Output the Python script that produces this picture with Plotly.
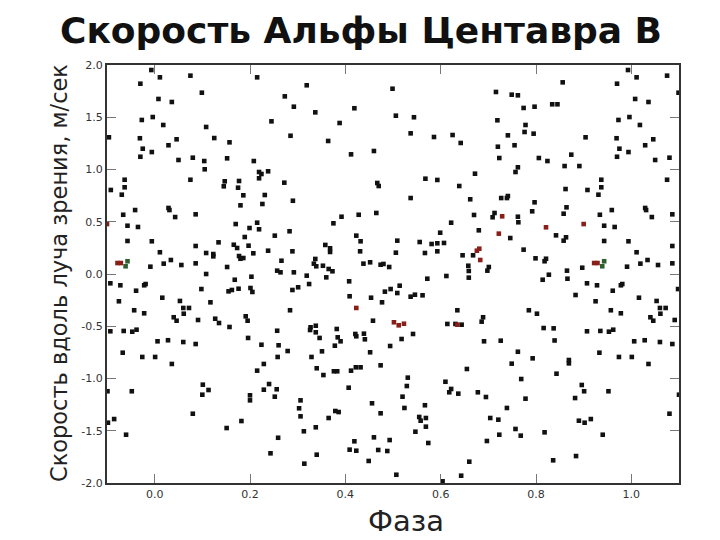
import plotly.graph_objects as go

# Phase (0..1) and radial velocity (m/s)
phase = [
0.011,0.075,0.099,0.008,0.036,0.018,0.108,0.046,0.125,0.157,0.029,0.080,0.050,0.104,0.152,0.208,0.105,0.075,0.147,0.177,0.145,0.175,0.186,
0.215,0.319,0.499,0.273,0.292,0.337,0.419,0.506,0.245,0.388,0.285,0.364,0.460,0.412,0.219,0.224,0.238,0.219,0.272,0.467,0.470,0.231,0.290,
0.716,0.749,0.762,0.774,0.797,0.834,0.544,0.719,0.778,0.537,0.586,0.625,0.642,0.741,0.776,0.795,0.720,0.755,0.723,0.806,0.824,0.762,0.757,0.672,0.568,0.593,0.639,0.537,0.662,0.727,0.739,0.741,0.797,
0.993,0.856,0.970,0.845,0.973,0.996,0.904,0.969,0.975,0.994,0.970,0.874,0.860,0.891,0.937,0.862,0.908,0.937,0.931,
0.180,0.029,0.031,0.043,0.086,0.170,0.199,0.189,0.134,0.166,0.173,0.197,0.086,0.011,0.108,0.123,0.123,0.177,0.180,0.186,0.207,0.034,0.019,0.056,0.086,0.152,0.108,0.203,0.168,0.098,0.155,0.162,0.176,0.016,0.053,0.117,0.060,0.072,0.061,0.191,0.195,0.040,0.046,0.091,0.127,0.135,0.157,0.196,0.006,0.028,0.060,
0.864,0.858,0.934,0.959,0.943,0.965,0.842,0.863,0.858,0.943,0.994,0.897,0.991,0.865,0.866,0.907,0.928,0.961,0.981,0.978,0.883,0.925,0.957,0.978,0.837,0.907,0.935,0.953,0.962,
0.226,0.215,0.219,0.252,0.283,0.375,0.392,0.428,0.465,0.423,0.432,0.509,0.238,0.289,0.358,0.368,0.368,0.431,0.506,0.266,0.337,0.334,0.339,0.353,0.365,0.373,0.360,0.257,0.264,0.292,0.319,0.324,0.289,0.301,0.201,0.205,0.438,0.452,0.474,0.480,0.492,0.408,0.409,0.454,0.483,0.495,0.509,0.514,0.477,0.284,0.458,0.257,0.327,0.338,0.326,0.338,0.346,0.382,0.384,0.390,0.421,0.423,0.439,0.441,0.518,
0.792,0.670,0.713,0.709,0.762,0.763,0.622,0.680,0.746,0.599,0.556,0.581,0.593,0.607,0.593,0.567,0.646,0.668,0.774,0.799,0.821,0.818,0.658,0.659,0.659,0.701,0.698,0.612,0.572,0.827,0.814,0.537,0.546,0.562,0.635,0.785,0.802,0.689,0.686,0.614,0.631,0.644,0.542,0.816,0.691,0.726,0.839,
0.086,0.036,0.101,0.113,0.100,0.200,0.200,0.080,0.182,0.151,0.001,
0.224,0.260,0.279,0.258,0.229,0.215,0.240,0.229,0.256,0.252,0.378,0.351,0.329,0.340,0.354,0.376,0.383,0.412,0.422,0.432,0.452,0.494,0.474,0.407,0.306,0.303,0.306,0.379,0.386,0.365,0.456,0.474,0.520,0.524,0.338,0.313,0.259,0.243,0.340,0.314,0.419,0.460,0.409,0.423,0.469,0.488,0.493,0.449,0.507,
0.762,0.793,0.749,0.655,0.531,0.529,0.610,0.622,0.618,0.637,0.678,0.695,0.769,0.778,0.739,0.567,0.555,0.558,0.569,0.569,0.547,0.574,0.704,0.721,0.723,0.757,0.768,0.697,0.818,0.836,0.660,0.643,0.604,
0.933,0.974,0.869,0.869,0.843,0.896,0.901,0.882,0.952,0.890,0.902,0.915,0.940,0.884,
]
velocity = [
1.882,1.898,1.735,1.675,1.646,1.426,1.407,1.289,1.301,1.260,1.232,1.113,1.091,1.081,1.107,1.081,1.002,0.902,0.887,0.890,0.839,0.826,0.753,
1.882,1.806,1.773,1.700,1.601,1.547,1.586,1.515,1.461,1.445,1.323,1.273,1.177,1.145,0.976,0.957,0.983,0.916,0.874,0.871,0.842,0.756,0.701,
1.742,1.716,1.710,1.589,1.601,1.624,1.500,1.471,1.426,1.346,1.311,1.330,1.254,1.327,1.359,1.343,1.218,1.232,1.110,1.110,1.081,1.021,0.976,0.960,0.912,0.900,0.842,0.727,0.715,0.727,0.727,0.746,0.686,
1.952,1.834,1.821,1.624,1.474,1.502,1.308,1.299,1.199,1.167,1.122,1.142,1.033,1.033,0.902,0.813,0.804,0.830,0.759,
0.657,0.632,0.612,0.545,0.571,0.478,0.440,0.354,0.303,0.280,0.249,0.271,0.268,0.208,0.201,0.191,0.169,0.172,0.146,0.153,0.198,0.134,0.099,0.086,0.102,0.067,0.000,-0.026,-0.055,-0.144,-0.166,-0.153,-0.141,-0.227,-0.258,-0.271,-0.325,-0.325,-0.380,-0.405,-0.447,-0.414,-0.447,-0.440,-0.428,-0.469,-0.507,-0.612,-0.644,-0.634,-0.651,
0.638,0.577,0.567,0.612,0.462,0.450,0.370,0.351,0.319,0.316,0.313,0.060,0.070,0.032,-0.045,-0.089,-0.108,-0.160,-0.096,-0.108,-0.201,-0.261,-0.347,-0.376,-0.520,-0.548,-0.545,-0.552,-0.533,
0.670,0.491,0.428,0.367,0.409,0.485,0.548,0.567,0.584,0.367,0.313,0.319,0.223,0.217,0.278,0.246,0.211,0.217,0.204,0.127,0.144,0.099,0.074,0.079,0.048,0.026,-0.032,0.032,0.016,0.016,-0.016,-0.096,-0.153,-0.127,-0.134,-0.172,0.099,0.112,0.089,0.096,0.067,-0.070,-0.213,-0.227,-0.169,-0.144,-0.182,-0.112,-0.271,-0.347,-0.447,-0.543,-0.510,-0.495,-0.536,-0.558,-0.612,-0.526,-0.606,-0.644,-0.574,-0.596,-0.571,-0.625,-0.622,
0.600,0.565,0.584,0.543,0.548,0.495,0.491,0.418,0.344,0.395,0.306,0.287,0.294,0.297,0.217,0.201,0.179,0.179,0.233,0.150,0.146,0.122,0.079,0.029,-0.035,0.067,0.032,-0.019,-0.045,-0.007,-0.055,-0.217,-0.198,-0.204,-0.347,-0.347,-0.380,-0.414,-0.456,-0.478,-0.478,-0.485,-0.574,-0.517,-0.644,-0.638,-0.636,
-0.670,-0.861,-1.059,-1.110,-1.155,-1.161,-1.209,-1.337,-1.407,-1.474,-0.794,
-0.677,-0.682,-0.737,-0.794,-0.861,-0.925,-1.053,-1.107,-1.103,-1.174,-0.686,-0.740,-0.794,-0.902,-0.967,-0.931,-0.931,-0.925,-0.893,-0.893,-0.749,-0.689,-0.874,-1.088,-1.209,-1.285,-1.362,-1.311,-1.321,-1.378,-1.237,-1.333,-1.174,-1.282,-1.467,-1.505,-1.567,-1.716,-1.729,-1.815,-1.601,-1.563,-1.681,-1.691,-1.684,-1.694,-1.589,-1.789,-1.921,
-0.744,-0.807,-0.858,-0.909,-0.992,-1.072,-1.031,-1.100,-1.132,-1.145,-1.132,-1.177,-1.005,-1.193,-1.282,-1.256,-1.368,-1.404,-1.378,-1.461,-1.509,-1.617,-1.378,-1.394,-1.538,-1.483,-1.547,-1.598,-1.515,-1.783,-1.796,-1.930,-1.984,
-0.753,-0.794,-0.823,-0.855,-0.954,-1.062,-1.122,-1.187,-1.122,-1.404,-1.423,-1.388,-1.538,-1.742,
]

# A few measurements drawn in dark red / green in the reference
phase_red = [0.900,0.922,0.929,0.729,0.821,0.722,0.681,0.676,0.683,0.635,0.423,0.502,0.512,0.523]
velocity_red = [0.478,0.105,0.105,0.552,0.447,0.386,0.242,0.223,0.134,-0.485,-0.325,-0.462,-0.491,-0.476]
phase_green = [0.943,0.939]
velocity_green = [0.122,0.074]

x_ticks = [0.0, 0.2, 0.4, 0.6, 0.8, 1.0]
y_ticks = [-2.0, -1.5, -1.0, -0.5, 0.0, 0.5, 1.0, 1.5, 2.0]

X_MIN, X_MAX = -0.1, 1.1


def folded(ph, v):
    """Phase-folded plot repeats the ends of the cycle on both sides."""
    xs, ys = [], []
    for p, val in zip(ph, v):
        for shift in (-1.0, 0.0, 1.0):
            q = p + shift
            if X_MIN <= q <= X_MAX:
                xs.append(q)
                ys.append(val)
    return xs, ys


fig = go.Figure()
for ph, v, col in [(phase, velocity, "#111111"),
                   (phase_red, velocity_red, "#8a1f1a"),
                   (phase_green, velocity_green, "#2f5f2f")]:
    xs, ys = folded(ph, v)
    fig.add_trace(go.Scatter(x=xs, y=ys, mode="markers",
                             marker=dict(symbol="square", size=4.6, color=col,
                                         line=dict(width=0)),
                             showlegend=False, hoverinfo="skip"))

axis_common = dict(showgrid=False, zeroline=False, showline=True,
                   linecolor="#333333", linewidth=2, mirror="ticks",
                   ticks="inside", ticklen=9, tickcolor="#777777",
                   tickfont=dict(family="DejaVu Sans", size=11, color="#333333"))

# the page body adds an 8 px offset, so the margins compensate for it
fig.update_layout(
    width=720, height=540,
    margin=dict(l=99, r=49, t=57, b=65),
    paper_bgcolor="white", plot_bgcolor="white",
    xaxis=dict(range=[X_MIN, X_MAX], tickvals=x_ticks,
               ticktext=[f"{t:.1f}" for t in x_ticks], **axis_common),
    yaxis=dict(range=[-2.0, 2.0], tickvals=y_ticks,
               ticktext=[f"{t:.1f}" for t in y_ticks], **axis_common),
)

PW, PH = 572, 418  # plot area size in px
fig.add_annotation(text="<b>Скорость Альфы Центавра B</b>",
                   xref="paper", yref="paper", x=(361 - 107) / PW, y=1 + (65 - 31) / PH,
                   showarrow=False, xanchor="center", yanchor="middle",
                   font=dict(family="DejaVu Sans", size=36, color="#111111"))
fig.add_annotation(text="Скорость вдоль луча зрения, м/сек",
                   xref="paper", yref="paper", x=(59 - 107) / PW, y=(483 - 273) / PH,
                   showarrow=False, textangle=-90, xanchor="center", yanchor="middle",
                   font=dict(family="DejaVu Sans", size=22.5, color="#222222"))
fig.add_annotation(text="Фаза",
                   xref="paper", yref="paper", x=(406 - 107) / PW, y=-(521 - 483) / PH,
                   showarrow=False, xanchor="center", yanchor="middle",
                   font=dict(family="DejaVu Sans", size=29, color="#222222"))

fig.write_html("out.html")
